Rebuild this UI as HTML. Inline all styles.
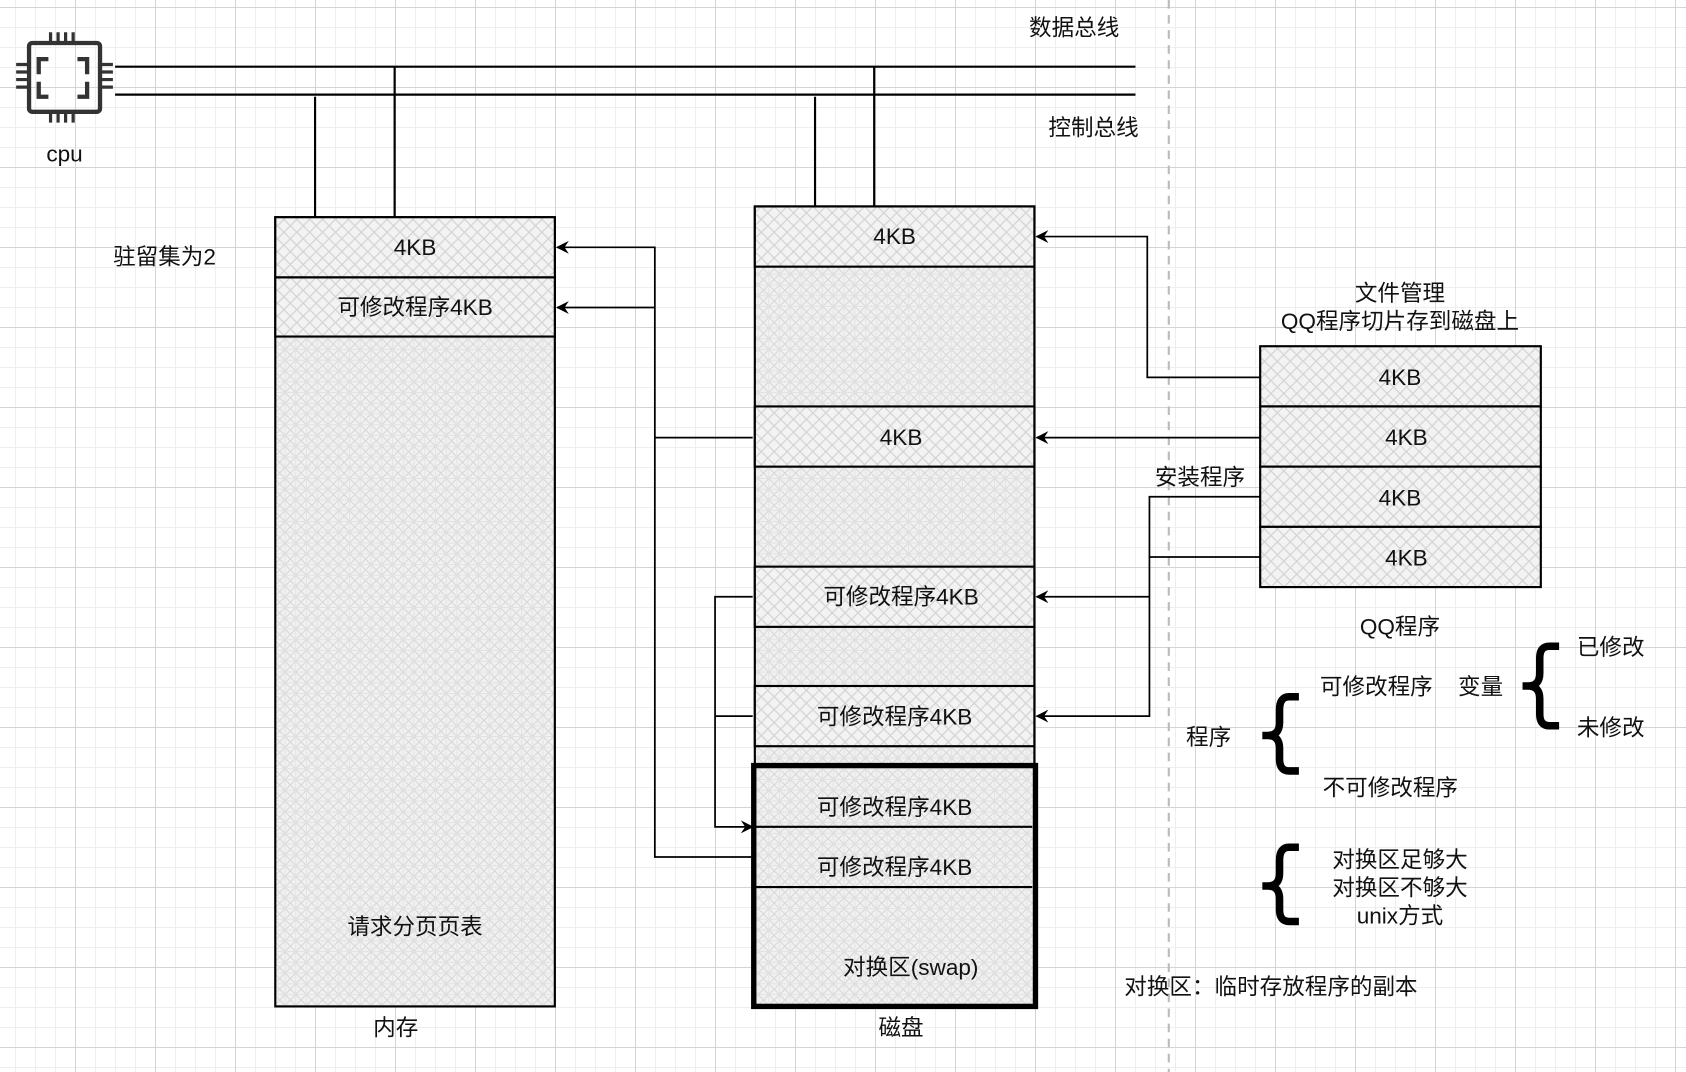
<!DOCTYPE html>
<html><head><meta charset="utf-8"><style>
html,body{margin:0;padding:0}
body{width:1686px;height:1072px;overflow:hidden;background-color:#fff;
background-image:
linear-gradient(to right,#d4d4d4 1px,transparent 1px),
linear-gradient(to bottom,#d4d4d4 1px,transparent 1px),
linear-gradient(to right,#eeeeee 1px,transparent 1px),
linear-gradient(to bottom,#eeeeee 1px,transparent 1px);
background-size:80px 80px,80px 80px,20px 20px,20px 20px;
background-position:75px 7px,75px 7px,15px 7px,15px 7px;}
svg{position:absolute;left:0;top:0}
text{font-family:"Liberation Sans","Noto Sans CJK SC",sans-serif;font-size:21px;fill:#111;text-anchor:middle}
</style></head><body>
<svg width="1686" height="1072" viewBox="0 0 1568 997" xmlns="http://www.w3.org/2000/svg">
<defs>
<pattern id="h" width="10" height="10" patternUnits="userSpaceOnUse">
<rect width="10" height="10" fill="#f1f1f1"/>
<path d="M0 0L10 10M10 0L0 10" stroke="#d8d8d8" stroke-width="1"/>
<path d="M5 0V10M0 5H10" stroke="#e2e2e2" stroke-width="0.8"/>
</pattern>
<pattern id="x" width="12" height="12" patternUnits="userSpaceOnUse">
<rect width="12" height="12" fill="#f3f3f3"/>
<path d="M0 0L12 12M12 0L0 12" stroke="#d4d4d4" stroke-width="1.2"/>
</pattern>
<marker id="a" markerWidth="12" markerHeight="12" refX="11" refY="6" orient="auto" markerUnits="userSpaceOnUse">
<path d="M0 0L12 6L0 12L4 6Z" fill="#000"/>
</marker>
</defs>
<line x1="1087" y1="0" x2="1087" y2="997" stroke="#bbb" stroke-width="2" stroke-dasharray="8,6"/>
<!-- cpu -->
<g stroke="#333" fill="none">
<rect x="27" y="40" width="66" height="64" rx="3" stroke-width="4"/>
<path d="M45 55h-9v14M72 55h9v14M45 90h-9v-14M72 90h9v-14" stroke-width="4"/>
<path d="M47 40v-10M54 40v-10M61 40v-10M68 40v-10M47 104v10M54 104v10M61 104v10M68 104v10M27 60h-12M27 67h-12M27 74h-12M27 81h-12M93 60h12M93 67h12M93 74h12M93 81h12" stroke-width="3"/>
</g>
<text x="60" y="150">cpu</text>
<!-- bus -->
<g stroke="#000" stroke-width="2">
<line x1="107" y1="62" x2="1056" y2="62"/><line x1="107" y1="88" x2="1056" y2="88"/>
<line x1="293" y1="90" x2="293" y2="202"/><line x1="367" y1="62" x2="367" y2="202"/>
<line x1="758" y1="90" x2="758" y2="192"/><line x1="813" y1="62" x2="813" y2="192"/>
</g>
<text x="999" y="33">数据总线</text>
<text x="1017" y="126">控制总线</text>
<text x="153" y="246">驻留集为2</text>
<!-- memory -->
<g stroke="#000" stroke-width="2">
<rect x="256" y="202" width="260" height="734" fill="url(#h)"/>
<rect x="256" y="202" width="260" height="56" fill="url(#x)"/>
<rect x="256" y="258" width="260" height="55" fill="url(#x)"/>
</g>
<text x="386" y="237">4KB</text>
<text x="386" y="293">可修改程序4KB</text>
<text x="386" y="869">请求分页页表</text>
<text x="368" y="963">内存</text>
<!-- disk -->
<g stroke="#000" stroke-width="2">
<rect x="702" y="192" width="260" height="520" fill="url(#h)"/>
<rect x="702" y="192" width="260" height="56" fill="url(#x)"/>
<rect x="702" y="378" width="260" height="56" fill="url(#x)"/>
<rect x="702" y="527" width="260" height="56" fill="url(#x)"/>
<rect x="702" y="638" width="260" height="56" fill="url(#x)"/>
<rect x="701" y="712" width="262" height="224" fill="url(#h)" stroke-width="5"/>
<line x1="703" y1="769" x2="960" y2="769"/><line x1="703" y1="825" x2="960" y2="825"/>
</g>
<text x="832" y="227">4KB</text>
<text x="838" y="414">4KB</text>
<text x="838" y="562">可修改程序4KB</text>
<text x="832" y="674">可修改程序4KB</text>
<text x="832" y="758">可修改程序4KB</text>
<text x="832" y="814">可修改程序4KB</text>
<text x="847" y="907">对换区(swap)</text>
<text x="838" y="963">磁盘</text>
<!-- connectors -->
<g stroke="#000" stroke-width="1.6" fill="none">
<path d="M700 407H609V230H518" marker-end="url(#a)"/>
<path d="M609 286H518" marker-end="url(#a)"/>
<path d="M609 407V797H700"/>
<path d="M700 555H665V769H700" marker-end="url(#a)"/>
<path d="M700 666H665"/>
<path d="M1172 351H1067V220H964" marker-end="url(#a)"/>
<path d="M1172 407H964" marker-end="url(#a)"/>
<path d="M1172 462H1069V666H964" marker-end="url(#a)"/>
<path d="M1172 518H1069"/>
<path d="M1069 555H964" marker-end="url(#a)"/>
</g>
<!-- QQ -->
<g stroke="#000" stroke-width="2">
<rect x="1172" y="322" width="261" height="56" fill="url(#x)"/>
<rect x="1172" y="378" width="261" height="56" fill="url(#x)"/>
<rect x="1172" y="434" width="261" height="56" fill="url(#x)"/>
<rect x="1172" y="490" width="261" height="56" fill="url(#x)"/>
</g>
<text x="1302" y="358">4KB</text><text x="1308" y="414">4KB</text>
<text x="1302" y="470">4KB</text><text x="1308" y="526">4KB</text>
<text x="1302" y="280">文件管理</text>
<text x="1302" y="306">QQ程序切片存到磁盘上</text>
<text x="1116" y="451">安装程序</text>
<text x="1302" y="590">QQ程序</text>
<text x="1124" y="693">程序</text>
<text x="1280" y="646">可修改程序</text>
<text x="1377" y="646">变量</text>
<text x="1498" y="609">已修改</text>
<text x="1498" y="684">未修改</text>
<text x="1293" y="740">不可修改程序</text>
<text x="1302" y="807">对换区足够大</text>
<text x="1302" y="833">对换区不够大</text>
<text x="1302" y="859">unix方式</text>
<text x="1182" y="925">对换区：临时存放程序的副本</text>
<!-- braces -->
<g stroke="#000" stroke-width="7" fill="none" stroke-linecap="butt">
<path d="M1208 648H1199Q1190 648 1190 660V672Q1190 684 1179 684H1174M1179 684Q1190 684 1190 696V706Q1190 717 1199 717H1208"/>
<path d="M1208 788H1199Q1190 788 1190 800V812Q1190 824 1179 824H1174M1179 824Q1190 824 1190 836V846Q1190 857 1199 857H1208"/>
<path d="M1450 601H1441Q1432 601 1432 612V626Q1432 638 1421 638H1416M1421 638Q1432 638 1432 650V664Q1432 675 1441 675H1450"/>
</g>
</svg>
</body></html>
